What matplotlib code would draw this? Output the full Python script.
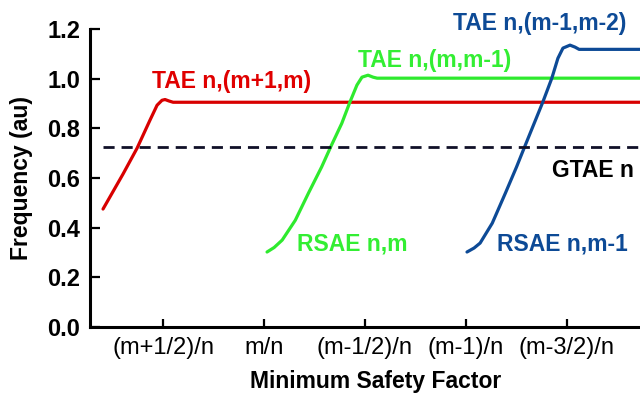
import matplotlib
matplotlib.use("Agg")
import matplotlib.pyplot as plt

plt.rcParams['font.family'] = ['Liberation Sans', 'DejaVu Sans']

# x in tick steps: 0 = (m+1/2)/n, 1 = m/n, ... 4 = (m-3/2)/n
tick_pos = [0, 1, 2, 3, 4]
tick_labels = ['(m+1/2)/n', 'm/n', '(m-1/2)/n', '(m-1)/n', '(m-3/2)/n']

red_x = [-0.594, -0.396, -0.257, -0.129, -0.059, -0.01, 0.02, 0.06, 0.10, 4.80]
red_y = [0.475, 0.616, 0.720, 0.833, 0.893, 0.913, 0.916, 0.910, 0.905, 0.905]

green_x = [1.03, 1.10, 1.18, 1.31, 1.44, 1.57, 1.66, 1.77, 1.85, 1.92, 1.97, 2.03, 2.08, 2.12, 4.80]
green_y = [0.302, 0.320, 0.350, 0.430, 0.539, 0.644, 0.725, 0.820, 0.905, 0.974, 1.006, 1.014, 1.006, 1.002, 1.002]

blue_x = [3.01, 3.08, 3.14, 3.26, 3.39, 3.50, 3.58, 3.70, 3.76, 3.85, 3.91, 3.96, 4.03, 4.08, 4.12, 4.80]
blue_y = [0.302, 0.318, 0.338, 0.418, 0.539, 0.644, 0.725, 0.845, 0.905, 1.002, 1.082, 1.123, 1.135, 1.127, 1.118, 1.118]

gtae_y = 0.725
gtae_x0 = -0.594

red = '#d80000'
green = '#2eea2e'
blue = '#0d4a96'

fig = plt.figure(figsize=(6.4, 3.97), dpi=100)
ax = fig.add_axes([90/640, 1 - 327/397, 550/640, 298/397])

ax.plot(red_x, red_y, color=red, lw=2.3, solid_capstyle='round', solid_joinstyle='round')
ax.plot(green_x, green_y, color=green, lw=2.3, solid_capstyle='round', solid_joinstyle='round')
ax.plot(blue_x, blue_y, color=blue, lw=2.3, solid_capstyle='round', solid_joinstyle='round')
ax.plot([gtae_x0, 4.8], [gtae_y, gtae_y], color='#101028', lw=2.0, dashes=(4, 2.5))

fs = 16.5
ax.text(-0.109, 0.962, 'TAE n,(m+1,m)', color='#e00000', fontsize=fs, fontweight='bold')
ax.text(1.93, 1.046, 'TAE n,(m,m-1)', color='#33ee33', fontsize=fs, fontweight='bold')
ax.text(2.87, 1.195, 'TAE n,(m-1,m-2)', color=blue, fontsize=fs, fontweight='bold', clip_on=False)
ax.text(3.85, 0.604, 'GTAE n', color='black', fontsize=fs, fontweight='bold')
ax.text(1.33, 0.31, 'RSAE n,m', color='#33ee33', fontsize=fs, fontweight='bold')
ax.text(3.31, 0.31, 'RSAE n,m-1', color=blue, fontsize=fs, fontweight='bold')

ax.set_xlim(-0.723, 4.723)
ax.set_ylim(0, 1.2)
ax.set_yticks([0, 0.2, 0.4, 0.6, 0.8, 1.0, 1.2])
ax.set_yticklabels(['0.0', '0.2', '0.4', '0.6', '0.8', '1.0', '1.2'], fontweight='bold', fontsize=17)
ax.set_xticks(tick_pos)
ax.set_xticklabels(tick_labels, fontsize=17)

for s in ['top', 'right']:
    ax.spines[s].set_visible(False)
for s in ['left', 'bottom']:
    ax.spines[s].set_linewidth(2.2)

ax.tick_params(axis='y', direction='in', length=7, width=1.6, pad=7)
ax.tick_params(axis='x', direction='in', length=6, width=1.6, pad=7)

ax.set_xlabel('Minimum Safety Factor', fontsize=16.5, fontweight='bold')
ax.set_ylabel('Frequency (au)', fontsize=16.5, fontweight='bold')
ax.xaxis.set_label_coords((376 - 90) / 550, -0.145)
ax.yaxis.set_label_coords(-(90 - 22) / 550, 0.5)
ax.yaxis.label.set_va('center')

fig.savefig('out.png', dpi=100)
